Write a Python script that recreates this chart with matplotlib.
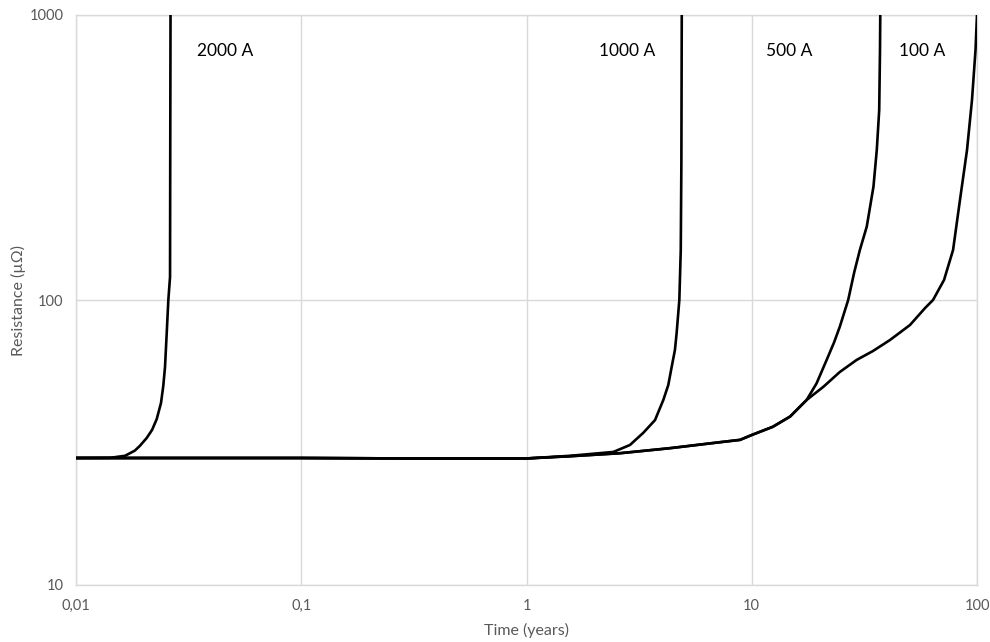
import matplotlib
matplotlib.use("Agg")
import matplotlib.pyplot as plt
from matplotlib.ticker import FixedLocator, FixedFormatter, NullLocator

# ---- data ----
t_2000 = [0.01, 0.0142, 0.0165, 0.01823, 0.01923, 0.0206, 0.02176, 0.02282, 0.02384, 0.02441,
          0.02484, 0.02528, 0.0257, 0.02615, 0.0262, 0.02628]
r_2000 = [27.9, 27.95, 28.4, 29.6, 30.8, 32.8, 35.0, 38.2, 43.5, 50.0,
          58.2, 76.6, 100, 120.4, 300, 1000]

t_1000 = [0.01, 0.1, 0.3, 1.0, 1.56, 2.43, 2.88, 3.30, 3.72, 4.05, 4.26, 4.41, 4.56,
          4.64, 4.77, 4.84, 4.87, 4.89]
r_1000 = [27.9, 27.9, 27.8, 27.8, 28.4, 29.3, 31.0, 34.2, 37.9, 44.6, 50.3, 58.2, 66.8,
          76.6, 100, 149.8, 300, 1000]

t_500 = [0.01, 0.1, 0.3, 1.0, 1.56, 2.6, 4.33, 7.23, 8.87, 10.0, 12.4, 14.8, 17.53,
         19.4, 21.5, 23.2, 24.6, 26.8, 28.5, 30.2, 32.4, 34.7, 35.9, 36.8, 37.1, 37.2]
r_500 = [27.9, 27.9, 27.8, 27.8, 28.3, 29.0, 30.2, 31.7, 32.3, 33.6, 35.9, 39.0, 44.6,
         51.0, 61.6, 71.0, 80.6, 100, 125, 149.8, 180.9, 249.8, 336, 464, 754, 1000]

t_100 = [0.01, 0.1, 0.3, 1.0, 1.56, 2.6, 4.33, 7.23, 8.87, 10.0, 12.4, 14.8, 17.53,
         20.8, 24.6, 29.2, 34.5, 41.1, 50.4, 58.8, 63.8, 71.4, 78.3, 84.0, 90.3, 95.0, 98.5, 100.0]
r_100 = [27.9, 27.9, 27.8, 27.8, 28.3, 29.0, 30.2, 31.7, 32.3, 33.6, 35.9, 39.0, 44.6,
         49.6, 55.9, 61.6, 66.2, 72.4, 81.7, 93.7, 100, 117.6, 149.8, 224, 336, 503, 754, 1000]

series_labels = ["2000 A", "1000 A", "500 A", "100 A"]
label_x = [0.0458, 2.79, 14.6, 57.0]
label_y = 750

x_ticks = [0.01, 0.1, 1, 10, 100]
x_ticklabels = ["0,01", "0,1", "1", "10", "100"]
y_ticks = [10, 100, 1000]
y_ticklabels = ["10", "100", "1000"]

# ---- figure ----
plt.rcParams['font.family'] = ['Lato', 'DejaVu Sans']
fig = plt.figure(figsize=(9.9, 6.42), dpi=100)
ax = fig.add_axes([76 / 990, 1 - 585 / 642, (977 - 76) / 990, (585 - 15) / 642])

ax.set_xscale('log')
ax.set_yscale('log')
ax.set_xlim(0.01, 100)
ax.set_ylim(10, 1000)

for t, r in [(t_2000, r_2000), (t_1000, r_1000), (t_500, r_500), (t_100, r_100)]:
    ax.plot(t, r, color='black', lw=1.9, solid_joinstyle='round', solid_capstyle='round', zorder=3)

grid_c = '#d9d9d9'
ax.xaxis.set_major_locator(FixedLocator(x_ticks))
ax.xaxis.set_major_formatter(FixedFormatter(x_ticklabels))
ax.xaxis.set_minor_locator(NullLocator())
ax.yaxis.set_major_locator(FixedLocator(y_ticks))
ax.yaxis.set_major_formatter(FixedFormatter(y_ticklabels))
ax.yaxis.set_minor_locator(NullLocator())
ax.grid(True, which='major', color=grid_c, lw=1.0, zorder=0)
ax.tick_params(axis='both', length=0, labelcolor='#595959', labelsize=10.5)
ax.tick_params(axis='x', pad=10)
ax.tick_params(axis='y', pad=9)
for s in ax.spines.values():
    s.set_color(grid_c)
    s.set_linewidth(1.0)

fig.text(527 / 990, 1 - 630 / 642, "Time (years)", color='#595959', fontsize=11.5,
         ha='center', va='center')
fig.text(18 / 990, 1 - 300 / 642, "Resistance (µΩ)", color='#595959', fontsize=11.5,
         ha='center', va='center', rotation=90)

for lab, lx in zip(series_labels, label_x):
    ax.text(lx, label_y, lab, ha='center', va='center', fontsize=12.5, color='black')

fig.savefig("out.png", dpi=100, facecolor='white')
